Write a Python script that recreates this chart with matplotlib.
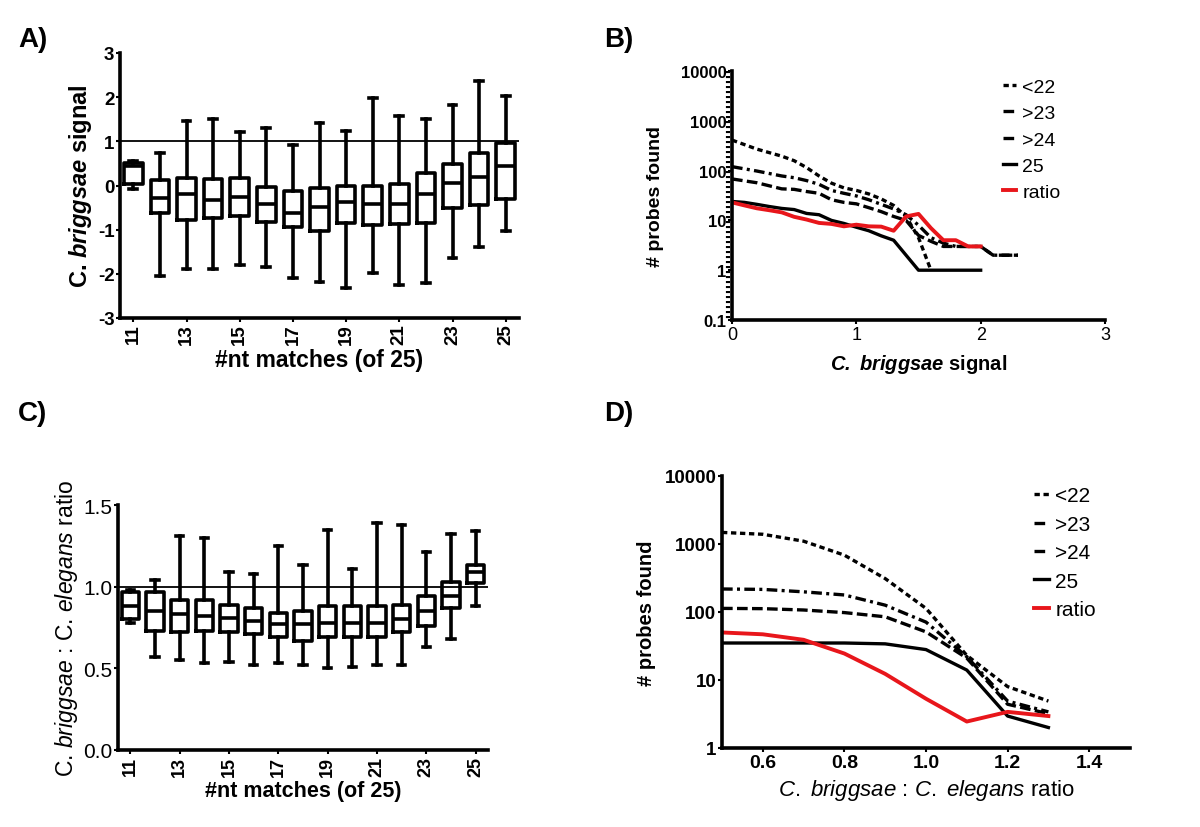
import numpy as np
import matplotlib.pyplot as plt

plt.rcParams['font.family'] = ['Liberation Sans', 'DejaVu Sans']
plt.rcParams['mathtext.fontset'] = 'custom'
plt.rcParams['mathtext.rm'] = 'Liberation Sans'
plt.rcParams['mathtext.it'] = 'Liberation Sans:italic'
plt.rcParams['mathtext.bf'] = 'Liberation Sans:bold'
plt.rcParams['mathtext.bfit'] = 'Liberation Sans:italic:bold'
plt.rcParams['axes.unicode_minus'] = False

matches = list(range(11, 26))
match_ticks = [11, 13, 15, 17, 19, 21, 23, 25]

# A) C. briggsae signal vs number of matching nt
a_whislo = [-0.08, -2.06, -1.88, -1.88, -1.81, -1.84, -2.10, -2.18, -2.31, -1.97, -2.25, -2.21, -1.65, -1.40, -1.04]
a_q1 = [0.03, -0.63, -0.79, -0.74, -0.70, -0.82, -0.95, -1.02, -0.85, -0.89, -0.87, -0.86, -0.51, -0.44, -0.30]
a_med = [0.45, -0.28, -0.20, -0.33, -0.25, -0.43, -0.63, -0.48, -0.38, -0.43, -0.43, -0.19, 0.05, 0.19, 0.45]
a_q3 = [0.52, 0.13, 0.17, 0.15, 0.17, -0.04, -0.13, -0.06, -0.02, 0.00, 0.03, 0.29, 0.48, 0.74, 0.97]
a_whishi = [0.55, 0.73, 1.46, 1.51, 1.21, 1.31, 0.92, 1.42, 1.23, 1.98, 1.57, 1.51, 1.83, 2.36, 2.03]

# C) briggsae : elegans ratio vs number of matching nt
c_whislo = [0.78, 0.57, 0.55, 0.53, 0.54, 0.52, 0.53, 0.52, 0.50, 0.51, 0.52, 0.52, 0.63, 0.68, 0.88]
c_q1 = [0.80, 0.73, 0.72, 0.73, 0.72, 0.71, 0.69, 0.67, 0.69, 0.69, 0.69, 0.72, 0.76, 0.87, 1.02]
c_med = [0.88, 0.85, 0.83, 0.82, 0.81, 0.79, 0.77, 0.77, 0.78, 0.78, 0.78, 0.80, 0.85, 0.94, 1.09]
c_q3 = [0.97, 0.97, 0.92, 0.92, 0.89, 0.87, 0.84, 0.85, 0.88, 0.88, 0.88, 0.89, 0.94, 1.03, 1.13]
c_whishi = [0.98, 1.04, 1.31, 1.30, 1.09, 1.08, 1.25, 1.13, 1.35, 1.11, 1.39, 1.38, 1.21, 1.32, 1.34]

# B) probes found vs C. briggsae signal
b_axis_x = [-0.03, -0.03]
b_axis_y = [10000, 0.1]
b_x_lt22 = [0, 0.2, 0.4, 0.5, 0.6, 0.7, 0.8, 0.9, 1.0, 1.1, 1.2, 1.3, 1.4, 1.5, 1.6]
b_lt22 = [410, 270, 195, 158, 115, 78, 56, 45, 40, 34, 27, 20, 12, 4.5, 1]
b_x_gt = [0, 0.2, 0.4, 0.5, 0.6, 0.7, 0.8, 0.9, 1.0, 1.1, 1.2, 1.3, 1.4, 1.5, 1.6, 1.7, 1.8, 1.9, 2.0, 2.1, 2.2, 2.3]
b_gt23 = [120, 98, 78, 72, 63, 53, 40, 35, 31, 26, 21, 17, 13, 8, 4.5, 3.5, 3, 3, 3, 2, 2, 2]
b_gt24 = [68, 57, 43, 42, 38, 35, 26, 23, 21.5, 18, 15, 12, 10, 5, 3.8, 3, 3, 3, 3, 2, 2, 2]
b_x_25 = [0, 0.1, 0.2, 0.3, 0.4, 0.5, 0.6, 0.7, 0.8, 0.9, 1.0, 1.1, 1.2, 1.3, 1.5, 1.6, 1.7, 1.8, 1.9, 2.0]
b_25 = [24, 23, 21, 19, 17.4, 16.5, 13.8, 13, 10, 8.7, 7.3, 6.2, 4.9, 4, 1, 1, 1, 1, 1, 1]
b_x_ratio = [0, 0.1, 0.2, 0.3, 0.4, 0.5, 0.6, 0.7, 0.8, 0.9, 1.0, 1.1, 1.2, 1.3, 1.4, 1.5, 1.6, 1.7, 1.8, 1.9, 2.0]
b_ratio = [23, 20, 17.5, 16, 14.5, 11.8, 10.4, 8.9, 8.5, 7.6, 8.2, 7.6, 7.5, 6.2, 12, 13.5, 7, 4, 4, 3, 3]

# D) probes found vs briggsae : elegans ratio
d_x = [0.5, 0.6, 0.7, 0.8, 0.9, 1.0, 1.1, 1.2, 1.3]
d_lt22 = [1480, 1390, 1100, 685, 310, 113, 23, 8, 4.9]
d_gt23 = [218, 215, 198, 178, 126, 71, 22, 4.9, 3.4]
d_gt24 = [113, 112, 107, 98, 85, 51, 21, 4.4, 3.2]
d_25 = [35, 35, 35, 35, 34, 28, 14, 2.95, 2.0]
d_ratio = [50, 47, 39, 24.5, 12.3, 5.3, 2.45, 3.4, 2.95]

series_labels = ['<22', '>23', '>24', '25', 'ratio']
log_ticks = [0.1, 1, 10, 100, 1000, 10000]
log_tick_labels = ['0.1', '1', '10', '100', '1000', '10000']

LW = 2.4
dash_lt22 = (1.6, 1.1)
dash_gt23 = (3.2, 1.3, 0.9, 1.3)
dash_gt24 = (3.2, 1.3)


def style_axes(ax, size):
    for s in ['top', 'right']:
        ax.spines[s].set_visible(False)
    for s in ['left', 'bottom']:
        ax.spines[s].set_linewidth(2.6)
    ax.tick_params(direction='out', length=3, width=1.5, pad=1, labelsize=size)


def box_panel(ax, whislo, q1, med, q3, whishi, size):
    stats = []
    for i in range(len(matches)):
        stats.append({'whislo': whislo[i], 'q1': q1[i], 'med': med[i],
                      'q3': q3[i], 'whishi': whishi[i], 'fliers': []})
    ln = {'color': 'black', 'linewidth': LW + 0.2}
    ax.bxp(stats, positions=matches, widths=0.7, capwidths=0.3, showfliers=False,
           boxprops=ln, whiskerprops=ln, capprops=ln, medianprops=ln)
    ax.axhline(1, color='black', lw=1.3, zorder=0)
    ax.set_xlim(10.5, 25.5)
    ax.set_xticks(match_ticks)
    ax.set_xticklabels([str(m) for m in match_ticks], rotation=90, fontweight='bold')
    style_axes(ax, size)


def line_panel(ax, xs, ys, size):
    ax.plot(xs[0], ys[0], color='black', lw=LW, dashes=dash_lt22, label=series_labels[0])
    ax.plot(xs[1], ys[1], color='black', lw=LW, dashes=dash_gt23, label=series_labels[1])
    ax.plot(xs[2], ys[2], color='black', lw=LW, dashes=dash_gt24, label=series_labels[2])
    ax.plot(xs[3], ys[3], color='black', lw=LW, label=series_labels[3])
    ax.plot(xs[4], ys[4], color='#e8161b', lw=LW + 0.4, label=series_labels[4])
    ax.set_yscale('log')
    ax.minorticks_off()
    style_axes(ax, size)


fig = plt.figure(figsize=(12, 8.28), dpi=100)
W, H = 1200.0, 828.0


def add_ax(left, right, top, bottom):
    return fig.add_axes([left / W, 1 - bottom / H, (right - left) / W, (bottom - top) / H])


# A
axA = add_ax(120, 519, 54, 319)
box_panel(axA, a_whislo, a_q1, a_med, a_q3, a_whishi, 13.5)
axA.set_ylim(-3, 3)
axA.set_yticks([-3, -2, -1, 0, 1, 2, 3])
axA.set_yticklabels(['-3', '-2', '-1', '0', '1', '2', '3'], fontweight='bold')
axA.set_ylabel(r'C. $\mathbfit{briggsae}$ signal', fontsize=17, fontweight='bold', labelpad=3)
axA.set_xlabel('#nt matches (of 25)', fontsize=16.5, fontweight='bold', labelpad=3)

# B
axB = add_ax(732, 1105, 72, 321)
axB.plot(b_axis_x, b_axis_y, color='black', lw=3, dashes=(0.5, 0.7), clip_on=False)
line_panel(axB, [b_x_lt22, b_x_gt, b_x_gt, b_x_25, b_x_ratio],
           [b_lt22, b_gt23, b_gt24, b_25, b_ratio], 12)
axB.set_xlim(0, 3)
axB.set_ylim(0.1, 10000)
axB.set_xticks([0, 1, 2, 3])
axB.set_xticklabels(['0', '1', '2', '3'], fontsize=13)
axB.set_yticks(log_ticks)
axB.set_yticklabels(log_tick_labels, fontweight='bold')
axB.set_ylabel('# probes found', fontsize=14, fontweight='bold', labelpad=12)
axB.set_xlabel(r'$\mathbfit{C.\ briggsae}$ signal', fontsize=14.5, fontweight='bold', labelpad=7)
axB.legend(loc='upper left', bbox_to_anchor=(0.70, 1.01), frameon=False, fontsize=14,
           handlelength=0.7, handletextpad=0.3, labelspacing=0.45, borderpad=0)

# C
axC = add_ax(118, 488, 506, 751)
box_panel(axC, c_whislo, c_q1, c_med, c_q3, c_whishi, 13)
axC.set_ylim(0, 1.5)
axC.set_yticks([0.0, 0.5, 1.0, 1.5])
axC.set_yticklabels(['0.0', '0.5', '1.0', '1.5'], fontsize=15)
axC.set_ylabel(r'C. $\mathit{briggsae}$ : C. $\mathit{elegans}$ ratio', fontsize=16.5, labelpad=2)
axC.set_xlabel('#nt matches (of 25)', fontsize=15.5, fontweight='bold', labelpad=3)

# D
axD = add_ax(722, 1130, 477, 749)
line_panel(axD, [d_x] * 5, [d_lt22, d_gt23, d_gt24, d_25, d_ratio], 13.5)
axD.set_xlim(0.5, 1.5)
axD.set_ylim(1, 10000)
axD.set_xticks([0.6, 0.8, 1.0, 1.2, 1.4])
axD.set_xticklabels(['0.6', '0.8', '1.0', '1.2', '1.4'], fontweight='bold', fontsize=14)
axD.set_yticks(log_ticks[1:])
axD.set_yticklabels(log_tick_labels[1:], fontweight='bold')
axD.set_ylabel('# probes found', fontsize=14.5, fontweight='bold', labelpad=6)
axD.set_xlabel(r'$\mathit{C.\ briggsae}$ : $\mathit{C.\ elegans}$ ratio', fontsize=16, labelpad=5)
axD.legend(loc='upper left', bbox_to_anchor=(0.74, 1.0), frameon=False, fontsize=15,
           handlelength=0.7, handletextpad=0.3, labelspacing=0.45, borderpad=0)

for letter, x, y in [('A)', 18, 40), ('B)', 604, 40), ('C)', 18, 414), ('D)', 604, 414)]:
    fig.text(x / W, 1 - y / H, letter, fontsize=20, fontweight='bold', va='center', ha='left')

fig.savefig('out.png', dpi=100)
